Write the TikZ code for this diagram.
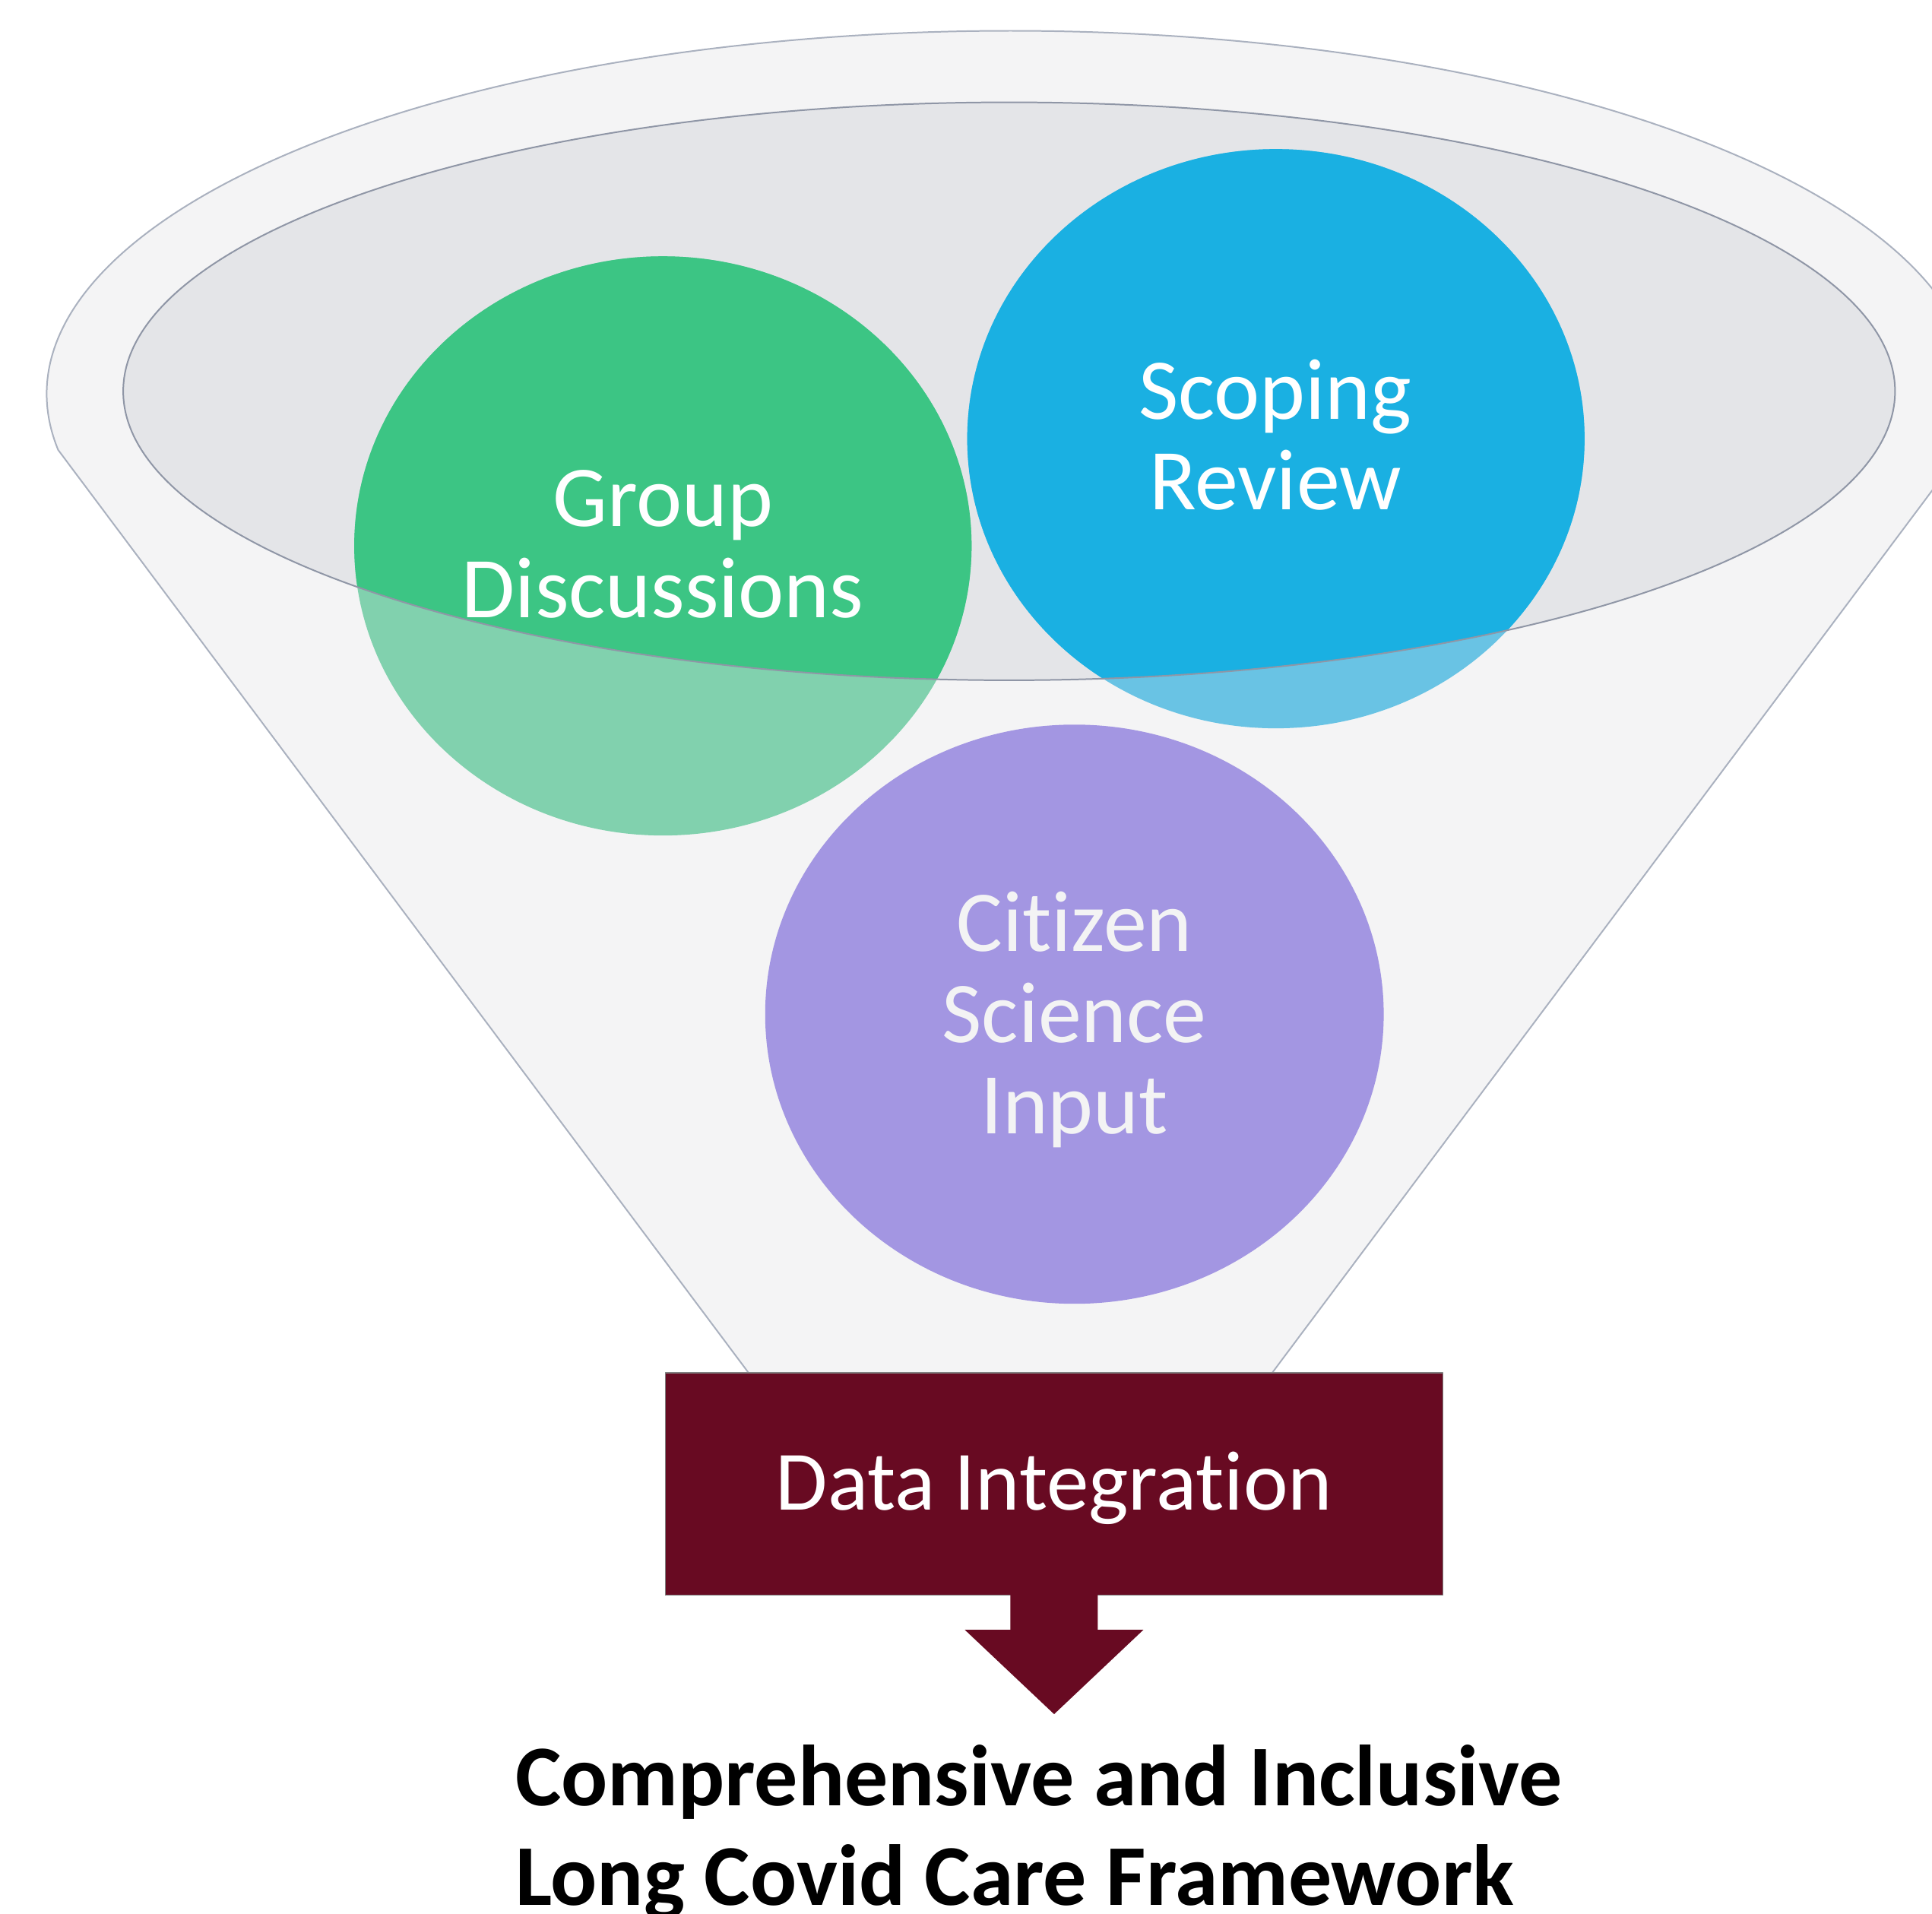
\documentclass[tikz,border=0pt]{standalone}
\usepackage{fontspec}
\setmainfont{Carlito}[Ligatures={TeX,NoCommon}]
\definecolor{funnel}{HTML}{F4F4F5}
\definecolor{rim}{HTML}{E4E5E8}
\definecolor{rimline}{HTML}{8F96A6}
\definecolor{edge}{HTML}{AAB1BF}
\definecolor{grn}{HTML}{3CC584}
\definecolor{grnlight}{HTML}{81D1AE}
\definecolor{blu}{HTML}{1AB0E2}
\definecolor{blulight}{HTML}{69C3E4}
\definecolor{purp}{HTML}{A396E2}
\definecolor{citext}{HTML}{F3F3F4}
\definecolor{maroon}{HTML}{680A22}
\begin{document}
\begin{tikzpicture}[line join=round,
	lbl/.style={align=center,text=white,font=\fontsize{20}{21}\selectfont},
	databox/.style={fill=maroon,draw=gray,line width=0.3pt,inner sep=0pt,
		minimum width=6.31cm,minimum height=1.805cm,text=white,
		text height=0.523cm,text depth=0.1cm,font=\fontsize{19.5}{21}\selectfont}]
	\useasboundingbox (0,0) rectangle (15.68,-15.53);
	\clip (0,0) rectangle (15.68,-15.53);
	\draw[edge,fill=funnel,line width=0.35pt] (0.472,-3.651)
		arc[start angle=188.8,end angle=-8.8,x radius=7.82,y radius=2.95]
		-- (10.31,-11.16) -- (6.09,-11.16) -- cycle;
	\fill[rim] (8.19,-3.175) ellipse (7.19 and 2.345);
	\fill[grnlight] (5.38,-4.43) ellipse (2.505 and 2.35);
	\fill[blulight] (10.355,-3.56) ellipse (2.505 and 2.35);
	\begin{scope}
		\clip (8.19,-3.175) ellipse (7.19 and 2.345);
		\fill[grn] (5.38,-4.43) ellipse (2.505 and 2.35);
		\fill[blu] (10.355,-3.56) ellipse (2.505 and 2.35);
	\end{scope}
	\draw[rimline,line width=0.35pt] (8.19,-3.175) ellipse (7.19 and 2.345);
	\fill[purp] (8.72,-8.23) ellipse (2.51 and 2.35);
	\node[lbl] (grp) at (5.38,-4.4175) {Group\\Discussions};
	\node[lbl] (scp) at (10.35,-3.53) {Scoping\\Review};
	\node[lbl,text=citext] (cit) at (8.72,-8.275) {Citizen\\Science\\Input};
	\node[databox] (integ) at (8.555,-12.0425) {Data Integration};
	\coordinate (tip) at (8.555,-13.91);
	\fill[maroon] ([xshift=-3.55mm,yshift=0.2mm]integ.south)
		|- ([xshift=-7.25mm,yshift=-2.75mm]integ.south) -- (tip)
		-- ([xshift=7.25mm,yshift=-2.75mm]integ.south)
		-| ([xshift=3.55mm,yshift=0.2mm]integ.south) -- cycle;
	\node[anchor=north west,inner sep=0pt,align=left,
		font=\bfseries\fontsize{20}{23}\selectfont] (frame) at (4.176,-14.15)
		{Comprehensive and Inclusive\\Long Covid Care Framework};
\end{tikzpicture}
\end{document}
